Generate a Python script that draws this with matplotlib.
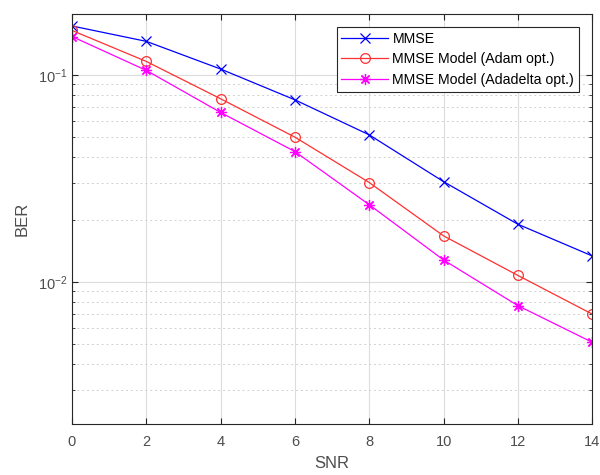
import matplotlib
matplotlib.use("Agg")
import matplotlib.pyplot as plt
from matplotlib.ticker import LogLocator, NullFormatter

plt.rcParams['font.family'] = ['Liberation Sans', 'DejaVu Sans']

snr = [0, 2, 4, 6, 8, 10, 12, 14]
ber_mmse = [0.172, 0.145, 0.1066, 0.0757, 0.0513, 0.0305, 0.0190, 0.01336]
ber_adam = [0.1637, 0.116, 0.0766, 0.0500, 0.0302, 0.0167, 0.01076, 0.0070]
ber_adadelta = [0.153, 0.105, 0.0658, 0.0426, 0.0236, 0.01277, 0.00769, 0.00512]

fig = plt.figure(figsize=(6, 4.75), dpi=100)
ax = fig.add_axes([0.12, 0.107, 0.867, 0.864])

ax.semilogy(snr, ber_mmse, '-x', color='blue', lw=0.9, ms=7, mew=0.9, label='MMSE')
ax.semilogy(snr, ber_adam, '-o', color='#ff3030', lw=0.9, ms=7, mew=0.9,
            mfc='none', label='MMSE Model (Adam opt.)')
ax.semilogy(snr, ber_adadelta, '-', marker=(8, 2, 0), color='magenta', lw=0.9,
            ms=8, mew=0.9, label='MMSE Model (Adadelta opt.)')

ax.set_xlim(0, 14)
ax.set_ylim(0.00206, 0.197)
ax.set_xticks(snr)
ax.yaxis.set_minor_locator(LogLocator(base=10, subs=range(2, 10)))
ax.yaxis.set_minor_formatter(NullFormatter())

ax.grid(True, which='major', color='#dcdcdc', lw=0.8, ls='-')
ax.grid(True, which='minor', axis='y', color='#d0d0d0', lw=0.7, ls=(0, (2, 3)))
ax.set_axisbelow(True)

ax.tick_params(which='both', direction='in', top=True, right=True,
               colors='#262626', labelcolor='#4d4d4d', labelsize=10.5)
ax.tick_params(which='major', length=4)
ax.tick_params(which='minor', length=2.5)
ax.tick_params(axis='x', pad=8)
for s in ax.spines.values():
    s.set_color('#262626')
    s.set_linewidth(0.8)

ax.set_xlabel('SNR', fontsize=12, color='#4d4d4d', labelpad=5)
ax.set_ylabel('BER', fontsize=12, color='#4d4d4d', labelpad=6)

leg = ax.legend(loc='upper right', fontsize=10.2, fancybox=False, framealpha=1,
                edgecolor='#262626', borderpad=0.35, labelspacing=0.45,
                handlelength=3.3, handletextpad=0.3, borderaxespad=0,
                bbox_to_anchor=(0.975, 0.968))
leg.get_frame().set_linewidth(0.8)

fig.savefig('out.png', dpi=100)
